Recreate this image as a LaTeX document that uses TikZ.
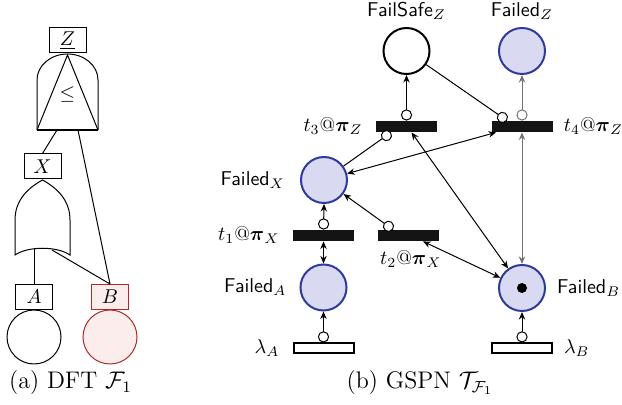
\documentclass[tikz,border=0pt]{standalone}
\usepackage{amsmath}
\usetikzlibrary{calc,positioning,arrows.meta}
\definecolor{postoblu}{HTML}{2F3A9C}
\definecolor{postolilla}{HTML}{D9D9F2}
\definecolor{guastorosso}{HTML}{B02A2A}
\definecolor{guastorosa}{HTML}{FCEDED}
\newlength{\larghezza}
\setlength{\larghezza}{311pt}
\newlength{\altezza}
\setlength{\altezza}{202.5pt}
\tikzset{
  punta/.tip={Stealth[length=3.8pt,width=3.2pt]},
  cerchio/.tip={Circle[open,length=5.6pt,fill=white]},
  porta/.style={draw, line width=0.5pt, minimum width=18.5pt, minimum height=12.5pt, inner sep=0pt,
    font=\fontsize{10}{12}\selectfont},
  evento/.style={circle, draw, line width=0.5pt, minimum size=27pt, inner sep=0pt},
  posto/.style={circle, draw=postoblu, fill=postolilla, line width=1pt, minimum size=23pt, inner sep=0pt},
  postovuoto/.style={posto, draw=black, fill=white},
  immediata/.style={fill=black!92, minimum width=30.5pt, minimum height=5.5pt, inner sep=0pt},
  temporizzata/.style={draw, fill=white, line width=1pt, minimum width=30pt, minimum height=5pt, inner sep=0pt},
  gettone/.style={circle, fill=black, minimum size=5pt, inner sep=0pt},
  arco/.style={line width=0.5pt},
  grigio/.style={arco, draw=black!55},
  nome/.style={font=\sffamily\fontsize{10}{12}\selectfont},
  mate/.style={font=\fontsize{10}{12}\selectfont},
  didascalia/.style={font=\fontsize{12}{14}\selectfont}
}

\begin{document}
\begin{tikzpicture}[x=0.5pt,y=-0.5pt]

  % ---- Cornice (dimensioni dell'immagine) --------------------------------
  \useasboundingbox (0,0) rectangle (\larghezza,-\altezza);

  % ---- (a) DFT -------------------------------------------------------------
  \node[porta] (z) at (67.5,40.5) {$\underline{Z}$};
  \node[porta] (x) at (42.5,166.5) {$X$};
  \node[porta] (a) at (34,297) {$A$};
  \node[porta, draw=guastorosso, fill=guastorosa] (b) at (110,297) {$B$};
  \node[evento] (ea) at (34,337) {};
  \node[evento, draw=guastorosso, fill=guastorosa] (eb) at (110,337) {};

  % Porta PAND, con il triangolo dentro
  \draw[line width=0.5pt] (37,130) -- (37,80)
    .. controls (37,65.6) and (50.7,54) .. (67.5,54)
    .. controls (84.3,54) and (98,65.6) .. (98,80) -- (98,130);
  \draw[line width=0.5pt, line join=round] (67.5,55) -- (37,130) -- (98,130) -- cycle;
  \draw[line width=1pt] (37,130) -- (98,130);
  \node[mate] (le) at (67.5,95) {$\leq$};

  % Porta OR
  \draw[line width=0.5pt] (15,255) -- (15,220)
    .. controls (15,200) and (28,188) .. (42.5,180)
    .. controls (57,188) and (70,200) .. (70,220) -- (70,255)
    .. controls (57,246) and (28,246) .. cycle;

  \coordinate (pandsx) at (57,130);
  \coordinate (panddx) at (78,130);
  \coordinate (orsx) at (34,249);
  \coordinate (ordx) at (52,250);
  \draw[arco] (pandsx) -- (x.north);
  \draw[arco] (panddx) -- (b.north);
  \draw[arco] (orsx) -- (a.north);
  \draw[arco] (ordx) -- (b.north);

  \node[didascalia] (capa) at (70.5,383) {(a) DFT $\mathcal{F}_1$};

  % ---- (b) GSPN ------------------------------------------------------------
  % Posti
  \node[postovuoto] (fsz) at (406.5,51) {};
  \node[posto] (fz) at (522,51) {};
  \node[posto] (fx) at (324,180) {};
  \node[posto] (fa) at (323.5,287.5) {};
  \node[posto] (fb) at (522,288) {};
  \node[gettone] (tok) at (fb) {};

  % Transizioni
  \node[immediata] (t3) at (406.5,126.5) {};
  \node[immediata] (t4) at (522,126.5) {};
  \node[immediata] (t1) at (323.5,235.5) {};
  \node[immediata] (t2) at (408,235.5) {};
  \node[temporizzata] (la) at (323.5,348.5) {};
  \node[temporizzata] (lb) at (522,348.5) {};

  % Etichette
  \node[nome, above=0pt of fsz] (lfsz) {FailSafe$_Z$};
  \node[nome, above=0pt of fz] (lfz) {Failed$_Z$};
  \node[nome, left=4pt of fx] (lfx) {Failed$_X$};
  \node[nome, left=3pt of fa] (lfa) {Failed$_A$};
  \node[nome, right=2pt of fb] (lfb) {Failed$_B$};
  \node[mate, left=3pt of t3] (lt3) {$t_3@\boldsymbol{\pi}_Z$};
  \node[mate, right=2pt of t4] (lt4) {$t_4@\boldsymbol{\pi}_Z$};
  \node[mate, left=3pt of t1] (lt1) {$t_1@\boldsymbol{\pi}_X$};
  \node[mate, below=1pt of t2.south west, anchor=north west, xshift=-2pt] (lt2) {$t_2@\boldsymbol{\pi}_X$};
  \node[mate, left=3pt of la] (lla) {$\lambda_A$};
  \node[mate, right=2pt of lb] (llb) {$\lambda_B$};

  % Archi
  \draw[arco, cerchio-punta] (t3.north) -- (fsz.south);
  \draw[grigio, cerchio-punta] (t4.north) -- (fz.south);
  \draw[arco, -cerchio] (fsz) -- ($(t4.north)+(-15,0)$);
  \draw[arco, -cerchio] (fx) -- ($(t3.south)+(-15.5,0)$);
  \draw[arco, punta-punta] (fx) -- ($(t4.south west)+(5,0)$);
  \draw[arco, punta-punta] ($(t3.south)+(5,0)$) -- (fb);
  \draw[grigio, punta-punta] (t4.south) -- (fb.north);
  \draw[arco, cerchio-punta] (t1.north) -- (fx.south);
  \draw[arco, punta-punta] (t1.south) -- (fa.north);
  \draw[arco, cerchio-punta] ($(t2.north)+(-15,0)$) -- (fx);
  \draw[arco, punta-punta] ($(t2.south)+(15,0)$) -- (fb);
  \draw[arco, cerchio-punta] (la.north) -- (fa.south);
  \draw[arco, cerchio-punta] (lb.north) -- (fb.south);

  \node[didascalia] (capb) at (420,383) {(b) GSPN $\mathcal{T}_{\mathcal{F}_1}$};

\end{tikzpicture}
\end{document}
